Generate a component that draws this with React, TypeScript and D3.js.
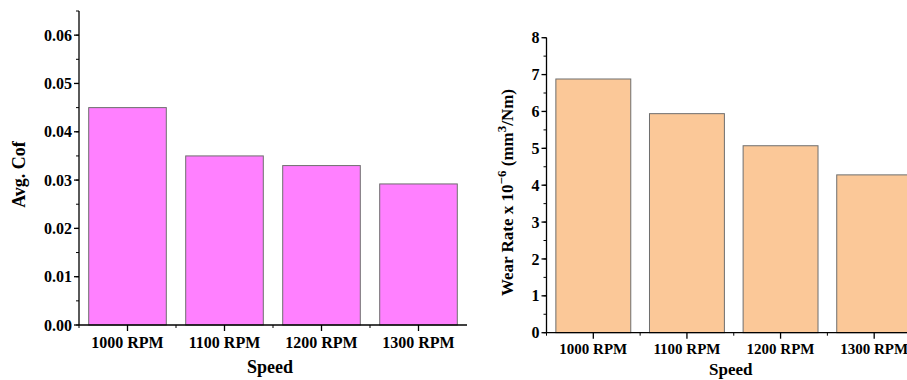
import React from "react";
import * as d3 from "d3";

const speeds = ["1000 RPM", "1100 RPM", "1200 RPM", "1300 RPM"];
const avgCof = [0.045, 0.035, 0.033, 0.0292];
const wearRate = [6.88, 5.94, 5.07, 4.28];
const cofTicks = [0, 0.01, 0.02, 0.03, 0.04, 0.05, 0.06];
const wearTicks = [0, 1, 2, 3, 4, 5, 6, 7, 8];

const FONT = "'Liberation Serif', 'Times New Roman', serif";

type PanelProps = {
  values: number[];
  ticks: number[];
  minorStep: number;
  yMax: number;
  fmt: (v: number) => string;
  x0: number;
  x1: number;
  y0: number;
  y1: number;
  fill: string;
  tickFont: number;
  catFont: number;
  catY: number;
  xTitleFont: number;
  xTitleY: number;
  yTitle: React.ReactNode;
  yTitleFont: number;
  yTitleX: number;
  yTitleY: number;
};

function Panel(p: PanelProps) {
  const x = d3.scaleBand<string>().domain(speeds).range([p.x0, p.x1]);
  const y = d3.scaleLinear().domain([0, p.yMax]).range([p.y0, p.y1]);
  const bw = x.bandwidth() * 0.8;
  const minor = d3.range(0, p.yMax + 1e-9, p.minorStep);

  return (
    <g>
      {speeds.map((s, i) => (
        <rect
          key={s}
          x={x(s)! + (x.bandwidth() - bw) / 2}
          y={y(p.values[i])}
          width={bw}
          height={y(0) - y(p.values[i])}
          fill={p.fill}
          stroke="#6e6e6e"
          strokeWidth={1}
        />
      ))}
      {/* y axis */}
      <line x1={p.x0} x2={p.x0} y1={y(0)} y2={y(p.yMax)} stroke="#000" strokeWidth={1.3} />
      {minor.map((v, i) => (
        <line key={"m" + i} x1={p.x0 - 3} x2={p.x0} y1={y(v)} y2={y(v)} stroke="#000" strokeWidth={1} />
      ))}
      {p.ticks.map((t) => (
        <g key={t}>
          <line x1={p.x0 - 5} x2={p.x0} y1={y(t)} y2={y(t)} stroke="#000" strokeWidth={1.3} />
          <text
            x={p.x0 - 7}
            y={y(t)}
            dy="0.35em"
            textAnchor="end"
            fontFamily={FONT}
            fontWeight="bold"
            fontSize={p.tickFont}
          >
            {p.fmt(t)}
          </text>
        </g>
      ))}
      {/* x axis */}
      <line x1={p.x0} x2={p.x1} y1={y(0)} y2={y(0)} stroke="#000" strokeWidth={1.3} />
      {speeds.map((s) => (
        <g key={s}>
          <line
            x1={x(s)! + x.bandwidth() / 2}
            x2={x(s)! + x.bandwidth() / 2}
            y1={y(0)}
            y2={y(0) + 6}
            stroke="#000"
            strokeWidth={1.3}
          />
          <line x1={x(s)!} x2={x(s)!} y1={y(0)} y2={y(0) + 3} stroke="#000" strokeWidth={1} />
          <text
            x={x(s)! + x.bandwidth() / 2}
            y={p.catY}
            textAnchor="middle"
            fontFamily={FONT}
            fontWeight="bold"
            fontSize={p.catFont}
          >
            {s}
          </text>
        </g>
      ))}
      <text
        x={(p.x0 + p.x1) / 2 - 3}
        y={p.xTitleY}
        textAnchor="middle"
        fontFamily={FONT}
        fontWeight="bold"
        fontSize={p.xTitleFont}
      >
        Speed
      </text>
      <text
        transform={`translate(${p.yTitleX},${p.yTitleY}) rotate(-90)`}
        textAnchor="middle"
        fontFamily={FONT}
        fontWeight="bold"
        fontSize={p.yTitleFont}
      >
        {p.yTitle}
      </text>
    </g>
  );
}

export default function App() {
  return (
    <svg
      width={907}
      height={380}
      style={{ position: "absolute", left: 0, top: 0, background: "#fff" }}
    >
      <Panel
        values={avgCof}
        ticks={cofTicks}
        minorStep={0.005}
        yMax={0.065}
        fmt={d3.format(".2f")}
        x0={79}
        x1={467}
        y0={325}
        y1={11}
        fill="#ff80ff"
        tickFont={16}
        catFont={16}
        catY={347.5}
        xTitleFont={18}
        xTitleY={373}
        yTitle="Avg. Cof"
        yTitleFont={18}
        yTitleX={24.5}
        yTitleY={174.5}
      />
      <rect x={469} y={0} width={438} height={380} fill="#fff" />
      <Panel
        values={wearRate}
        ticks={wearTicks}
        minorStep={0.5}
        yMax={8}
        fmt={d3.format("d")}
        x0={546.5}
        x1={921}
        y0={332.7}
        y1={37.7}
        fill="#fbc898"
        tickFont={16}
        catFont={15}
        catY={353.5}
        xTitleFont={17}
        xTitleY={374.5}
        yTitle={
          <>
            Wear Rate x 10
            <tspan fontSize={13} dy={-7}>−6</tspan>
            <tspan dy={7}> (mm</tspan>
            <tspan fontSize={13} dy={-7}>3</tspan>
            <tspan dy={7}>/Nm)</tspan>
          </>
        }
        yTitleFont={17}
        yTitleX={513}
        yTitleY={192.5}
      />
    </svg>
  );
}
